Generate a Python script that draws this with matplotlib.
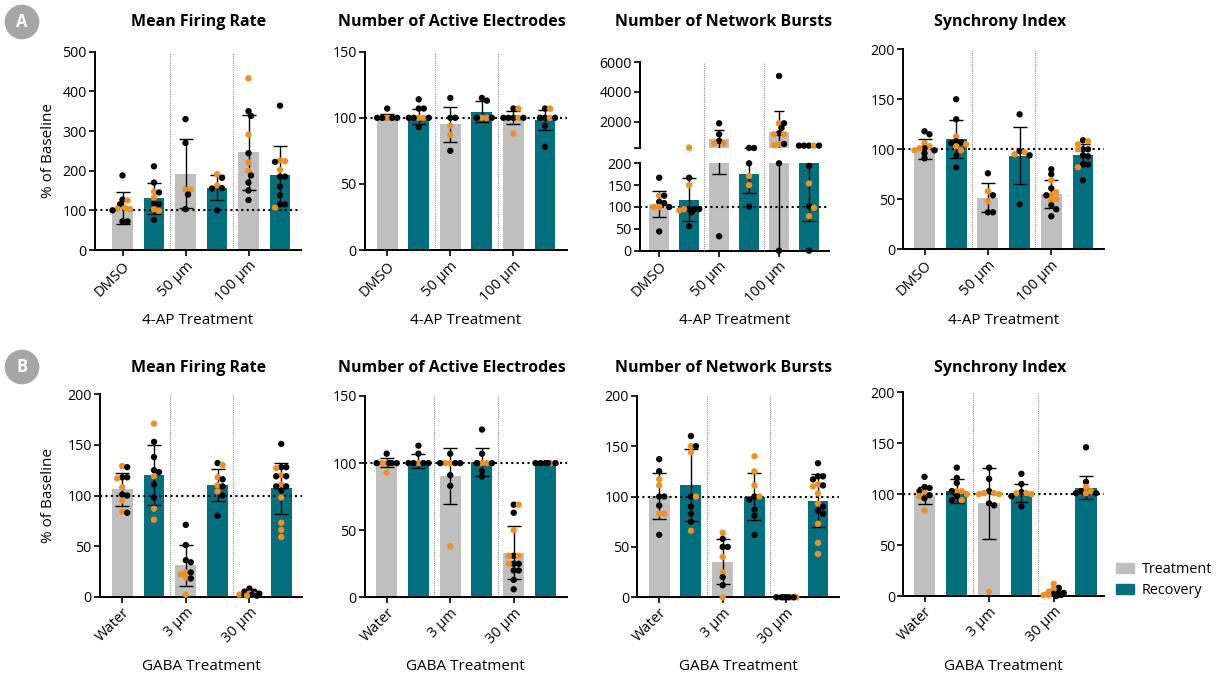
import numpy as np
import matplotlib
matplotlib.use('Agg')
import matplotlib.pyplot as plt
from matplotlib.patches import Patch
from matplotlib.lines import Line2D
from matplotlib.transforms import blended_transform_factory

plt.rcParams['font.family'] = ['Open Sans', 'DejaVu Sans']

GRAY = '#bfbfbf'
TEAL = '#00707f'
ORANGE = '#f0901e'
W, H = 1220, 680

groups_a = ['DMSO', '50 µm', '100 µm']
groups_b = ['Water', '3 µm', '30 µm']
titles = ['Mean Firing Rate', 'Number of Active Electrodes', 'Number of Network Bursts', 'Synchrony Index']

# ---- row A : 4-AP treatment (gray/teal pairs: DMSO, 50, 100) ----
a_mfr_mean = [105, 131, 192, 157, 246, 188]
a_mfr_sd = [40, 39, 87, 31, 94, 75]
a_mfr_black = [[188, 127, 115, 100, 72, 72], [211, 170, 145, 116, 116, 76], [330, 270, 140, 103],
               [182, 156, 155, 100], [350, 338, 244, 188, 170, 150, 126], [364, 222, 185, 185, 160, 138, 115, 115]]
a_mfr_orange = [[125, 106, 104, 103], [147, 132, 103, 99], [152, 152], [191, 163], [433, 291, 221, 200],
                [226, 224, 202, 107]]

a_nae_mean = [101, 101, 95, 104.6, 100, 98.5]
a_nae_sd = [2, 6, 13.5, 8, 5, 7.5]
a_nae_black = [[107, 100, 100, 100, 100], [114, 107, 107, 100, 100, 100, 93], [115, 100, 100, 75],
               [115, 113, 100, 100], [107, 100, 100, 100, 100], [107, 100, 100, 100, 94, 78]]
a_nae_orange = [[100], [100, 100], [94, 87], [100, 100], [107, 100, 88], [107, 100]]

a_nnb_mean = [106, 117, 805, 176, 1279, 222]
a_nnb_sd = [30, 50, 630, 44, 1460, 154]
a_nnb_black = [[167, 126, 112, 109, 100, 44], [167, 95, 95, 95, 88, 56], [1886, 1144, 695, 33],
               [222, 222, 200, 101], [5078, 1886, 1571, 1212, 492, 200, 0], [380, 380, 380, 380, 194, 102, 0]]
a_nnb_orange = [[126, 100, 100], [240, 150, 95, 92], [537, 537], [171, 150], [1886, 1144, 1144, 492, 420],
                [380, 154, 98, 79]]

a_si_mean = [100, 110, 51.7, 93.7, 55.3, 94.3]
a_si_sd = [10, 19, 14.5, 28.5, 14, 11]
a_si_black = [[118, 115, 101, 99, 96, 91], [150, 130, 108, 107, 106, 94, 82], [76, 54, 37, 37], [135, 98, 94, 45],
              [80, 75, 61, 54, 44, 40, 33], [109, 100, 100, 94, 93, 85, 85, 69]]
a_si_orange = [[106, 103, 101, 99], [113, 105, 103, 99], [58, 48], [95, 97], [69, 57, 54, 50, 49],
               [108, 105, 100, 82]]

# ---- row B : GABA treatment (Water, 3, 30) ----
b_mfr_mean = [106, 120, 31, 110.5, 2.5, 107]
b_mfr_sd = [16.5, 29.5, 20, 15.5, 2, 25]
b_mfr_black = [[128, 118, 118, 101, 100, 83], [153, 138, 125, 123, 111, 98], [71, 51, 36, 34, 24, 18],
               [132, 116, 109, 100, 80], [8, 5, 5, 3, 2, 2, 1], [151, 128, 128, 119, 119, 109, 109, 105]]
b_mfr_orange = [[129, 117, 108, 95, 84], [171, 119, 87, 76], [24, 22, 19, 2], [130, 118, 110, 104],
                [3, 2, 2, 1], [127, 120, 111, 98, 73, 66, 59]]

b_nae_mean = [100.5, 101.5, 90.5, 101, 33.3, 100]
b_nae_sd = [3.5, 5, 21, 10.5, 20, 0]
b_nae_black = [[107, 100, 100, 100, 100], [113, 107, 100, 100, 100, 100], [107, 100, 100, 100, 91, 83],
               [125, 107, 100, 100, 94, 90], [69, 63, 31, 25, 25, 20, 20, 13, 6], [100, 100, 100, 100, 100]]
b_nae_orange = [[100, 100, 93], [100], [100, 100, 38], [100, 100], [69, 50, 31, 31, 25], [100]]

b_nnb_mean = [100.5, 111.5, 35.4, 100, 0, 96]
b_nnb_sd = [22.5, 36, 22.5, 23, 0, 26]
b_nnb_black = [[137, 125, 100, 100, 91, 62], [160, 150, 100, 90, 83, 75], [58, 50, 50, 20, 12],
               [100, 97, 87, 81, 62], [0, 0, 0, 0, 0, 0], [133, 120, 120, 117, 111, 90, 86, 83]]
b_nnb_orange = [[117, 111, 83, 83], [150, 144, 100, 66], [64, 40, 25, 0], [140, 125, 111, 100], [0, 0],
                [112, 110, 103, 93, 73, 54, 43]]

b_si_mean = [99, 103, 91, 101, 3.5, 106.5]
b_si_sd = [8.5, 11.5, 35, 9, 3.5, 11.5]
b_si_black = [[117, 107, 106, 103, 99, 96], [126, 116, 111, 103, 98, 94], [126, 115, 103, 91, 89],
              [120, 110, 102, 98, 88], [8, 3, 3, 2, 1, 0], [146, 112, 103, 101, 101]]
b_si_orange = [[101, 98, 84], [103, 103, 100, 94], [101, 101, 100, 100, 4], [101, 101, 100], [12, 7, 4, 1, 1],
               [107, 103, 101]]

fig = plt.figure(figsize=(W / 100, H / 100), dpi=100)


def make_axes(left, right, bottom, top):
    return fig.add_axes([left / W, 1 - bottom / H, (right - left) / W, (bottom - top) / H])


def style(ax):
    for sp in ['top', 'right']:
        ax.spines[sp].set_visible(False)
    for sp in ['left', 'bottom']:
        ax.spines[sp].set_linewidth(1.4)
    ax.tick_params(width=1.2, length=4)
    ax.tick_params(axis='y', labelsize=10.2, pad=2)
    ax.tick_params(axis='x', labelsize=10.5, pad=2)


def swarm(ypx, d=5.0, step=2.5, lim=10.5):
    # simple beeswarm in pixel units, returns x offsets in px
    placed, offs = [], []
    cands = [0.0]
    for i in range(1, 10):
        cands += [i * step, -i * step]
    cands = [c for c in cands if abs(c) <= lim]
    for y in ypx:
        best, best_d = 0.0, -1
        for c in cands:
            md = min([np.hypot(c - px, y - py) for px, py in placed] or [99])
            if md >= d:
                best = c
                break
            if md > best_d:
                best, best_d = c, md
        placed.append((best, y))
        offs.append(best)
    return offs


def draw_dots(ax_for, black, orange, s):
    for i in range(6):
        vals, cols = [], []
        b, o = list(black[i]), list(orange[i])
        while b or o:
            if b:
                vals.append(b.pop(0)); cols.append('black')
            if o:
                vals.append(o.pop(0)); cols.append(ORANGE)
        order = np.argsort(-np.array(vals), kind='stable')
        vals = [vals[k] for k in order]
        cols = [cols[k] for k in order]
        ypx = [ax_for(v).transData.transform((0, v))[1] for v in vals]
        offs = swarm(ypx)
        for v, c, off in zip(vals, cols, offs):
            ax_for(v).scatter(i + off / s, v, s=21, color=c, edgecolors='none', zorder=5, clip_on=False)


def draw_bars(ax, mean, sd):
    x = np.arange(6)
    ax.bar(x, mean, width=0.66, color=[GRAY, TEAL] * 3, zorder=1)
    ax.errorbar(x, mean, yerr=sd, fmt='none', ecolor='black', elinewidth=1.0,
                capsize=5, capthick=1.0, zorder=4)


def draw_bars_upper(ax, mean, sd, base):
    # only the parts that rise above the axis break
    for i, (m, e) in enumerate(zip(mean, sd)):
        if m > base:
            ax.bar(i, m - base, bottom=base, width=0.66, color=[GRAY, TEAL][i % 2], zorder=1)
        if m + e > base:
            ax.vlines(i, max(m - e, base), m + e, color='black', lw=1.0, zorder=4)
            ax.plot([i], [m + e], marker='_', ms=7, mew=1.0, color='black', zorder=4)


panel_data = [
    (a_mfr_mean, a_mfr_sd, a_mfr_black, a_mfr_orange, 500, 100),
    (a_nae_mean, a_nae_sd, a_nae_black, a_nae_orange, 150, 50),
    (a_nnb_mean, a_nnb_sd, a_nnb_black, a_nnb_orange, 200, 50),
    (a_si_mean, a_si_sd, a_si_black, a_si_orange, 200, 50),
    (b_mfr_mean, b_mfr_sd, b_mfr_black, b_mfr_orange, 200, 50),
    (b_nae_mean, b_nae_sd, b_nae_black, b_nae_orange, 150, 50),
    (b_nnb_mean, b_nnb_sd, b_nnb_black, b_nnb_orange, 200, 50),
    (b_si_mean, b_si_sd, b_si_black, b_si_orange, 200, 50),
]

# pixel layout: left spine, right end, first bar centre, last bar centre, y of 0, y of top
layout = [
    (95, 301, 122.5, 280, 250, 51.7),
    (365, 566.7, 387.2, 545, 250, 51.7),
    (640, 829, 659.2, 809, 250.7, 163.3),
    (903.3, 1104.3, 924.5, 1083, 249.3, 49.3),
    (100, 302, 122.2, 281.2, 596.7, 394.3),
    (365, 566.7, 386.7, 545.5, 597.3, 396),
    (637.3, 839.3, 659.2, 818, 597.3, 395.7),
    (903.3, 1104.3, 924.5, 1086, 596, 392.3),
]
title_x = [199, 452, 724, 1000]

for p, ((mean, sd, black, orange, ymax, ystep), (l, r, c0, cl, yb, yt)) in enumerate(zip(panel_data, layout)):
    row = p // 4
    s = (cl - c0) / 5
    xlim = ((l - c0) / s, (r - c0) / s)
    ax = make_axes(l, r, yb, yt)
    style(ax)
    ax.set_xlim(xlim)
    ax.set_ylim(0, ymax)
    ax.set_yticks(np.arange(0, ymax + 1, ystep))
    ax.set_xticks([0, 2, 4])
    ax.set_xticklabels(groups_a if row == 0 else groups_b, rotation=45, ha='right',
                       rotation_mode='anchor')
    ax.axhline(100, color='black', lw=1.5, ls=(0, (1, 1.6)), zorder=3)
    draw_bars(ax, mean, sd)

    if p == 2:
        # broken y axis: upper segment 200-6000
        ax_t = make_axes(l, r, 148.3, 62.3)
        style(ax_t)
        ax_t.spines['bottom'].set_visible(False)
        ax_t.set_xlim(xlim)
        ax_t.set_ylim(200, 6000)
        ax_t.set_yticks([200, 2000, 4000, 6000])
        ax_t.set_yticklabels(['', '2000', '4000', '6000'])
        ax_t.set_xticks([])
        draw_bars_upper(ax_t, mean, sd, 200)
        ax_for = (lambda v, a=ax, b=ax_t: b if v > 200 else a)
        tr = blended_transform_factory(ax.transData, fig.transFigure)
        for xd in [1.5, 3.5]:
            fig.add_artist(Line2D([xd, xd], [1 - yb / H, 1 - 62.3 / H], transform=tr,
                                  color='#8c8c8c', lw=0.8, ls=(0, (1, 1))))
    else:
        ax_for = (lambda v, a=ax: a)
        for xd in [1.5, 3.5]:
            ax.axvline(xd, color='#8c8c8c', lw=0.8, ls=(0, (1, 1)), zorder=0.5)

    draw_dots(ax_for, black, orange, s)

    ty = 22 if row == 0 else 368
    fig.text(title_x[p % 4] / W, 1 - ty / H, titles[p % 4], ha='center', va='center',
             fontsize=11.5, fontweight='bold')
    ly = 320 if row == 0 else 667
    fig.text((l + r) / 2 / W, 1 - ly / H, '4-AP Treatment' if row == 0 else 'GABA Treatment',
             ha='center', va='center', fontsize=11)
    if p % 4 == 0:
        fig.text(48 / W, 1 - (yb + yt) / 2 / H, '% of Baseline', rotation=90, ha='center',
                 va='center', fontsize=11)

# panel badges
for letter, y in [('A', 22), ('B', 367)]:
    fig.text(22 / W, 1 - y / H, letter, ha='center', va='center', color='white', fontsize=12,
             fontweight='bold', bbox=dict(boxstyle='circle,pad=0.5', fc='#a6a6a6', ec='none'))

fig.legend(handles=[Patch(color=GRAY), Patch(color=TEAL)], labels=['Treatment', 'Recovery'],
           loc='center left', bbox_to_anchor=(1116 / W, 1 - 580 / H), frameon=False, fontsize=10.4,
           borderpad=0, borderaxespad=0, handlelength=1.25, handleheight=0.7, handletextpad=0.55,
           labelspacing=0.45)

fig.savefig('out.png', dpi=100)
